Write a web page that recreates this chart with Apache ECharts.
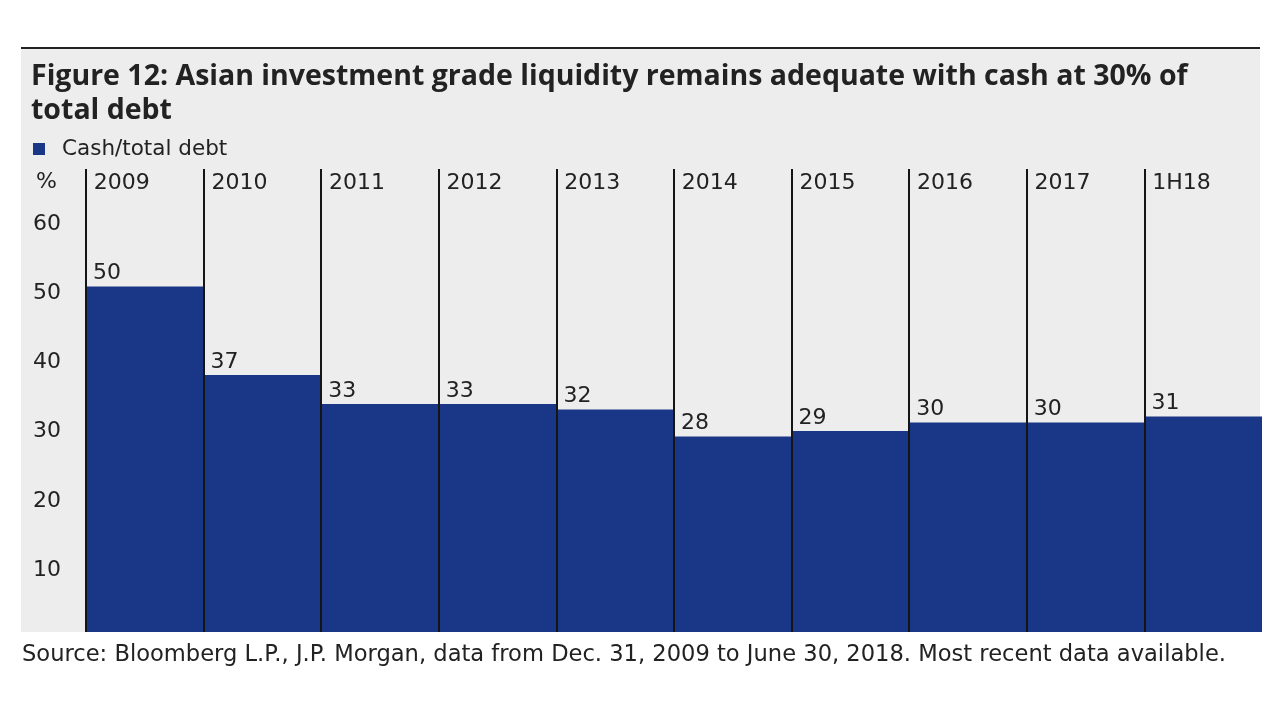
<!DOCTYPE html>
<html>
<head>
<meta charset="utf-8">
<style>html,body{margin:0;padding:0;background:#fff;}#c{width:1280px;height:720px;}</style>
<script src="https://cdn.jsdelivr.net/npm/echarts@6/dist/echarts.min.js"></script>
</head>
<body>
<div id="c"></div>
<script>
// Data
const categories = ['2009', '2010', '2011', '2012', '2013', '2014', '2015', '2016', '2017', '1H18'];
const cashToDebt = [50.0, 37.2, 33.0, 33.0, 32.2, 28.3, 29.1, 30.3, 30.3, 31.2];
const yMin = 0, yMax = 67, yInterval = 10;

const titleText = 'Figure 12: Asian investment grade liquidity remains adequate with cash at 30% of\ntotal debt';
const sourceText = 'Source: Bloomberg L.P., J.P. Morgan, data from Dec. 31, 2009 to June 30, 2018. Most recent data available.';
const seriesName = 'Cash/total debt';

const FONT = 'DejaVu Sans';
const TXT = '#222222';
const BLUE = '#1a3787';

const chart = echarts.init(document.getElementById('c'), null, {renderer: 'canvas'});
chart.setOption({
  backgroundColor: '#ffffff',
  animation: false,
  graphic: [
    {type: 'rect', z: -10, silent: true, shape: {x: 21, y: 48, width: 1239, height: 584}, style: {fill: '#ededed'}},
    {type: 'line', z: 10, silent: true, shape: {x1: 21, y1: 48, x2: 1260, y2: 48}, style: {stroke: '#222', lineWidth: 2}}
  ],
  title: [
    {text: titleText, left: 31, top: 60, padding: 0,
     textStyle: {fontFamily: 'Open Sans', fontWeight: 'bold', fontSize: 28.5, lineHeight: 34, color: TXT}},
    {text: sourceText, left: 22, top: 642, padding: 0,
     textStyle: {fontFamily: FONT, fontWeight: 'normal', fontSize: 22.6, lineHeight: 26, color: TXT}}
  ],
  legend: {
    left: 33, top: 138, padding: 0,
    icon: 'rect', itemWidth: 12, itemHeight: 12,
    textStyle: {fontFamily: FONT, fontSize: 21.5, color: TXT, padding: [0, 0, 0, 12]},
    data: [seriesName]
  },
  grid: {left: 86, right: 18, top: 169, bottom: 88},
  xAxis: {
    type: 'category', data: categories, position: 'top', z: 5,
    axisLine: {show: false}, axisTick: {show: false, interval: 0},
    axisLabel: {inside: true, interval: 0, margin: 14, verticalAlign: 'middle', color: TXT,
      fontFamily: FONT, fontSize: 22,
      formatter: v => '{a|' + v + '}',
      rich: {a: {width: 102, align: 'left', fontFamily: FONT, fontSize: 22, color: TXT}}},
    splitLine: {show: true, interval: 0, showMaxLine: false, lineStyle: {color: '#151515', width: 2}}
  },
  yAxis: {
    type: 'value', min: yMin, max: yMax, interval: yInterval,
    name: '%', nameLocation: 'end', nameGap: -13,
    nameTextStyle: {fontFamily: FONT, fontSize: 22, color: TXT, align: 'right', verticalAlign: 'middle', padding: [0, 29, 0, 0]},
    axisLine: {show: false}, axisTick: {show: false}, splitLine: {show: false},
    axisLabel: {showMinLabel: false, showMaxLabel: false, margin: 25, color: TXT,
      fontFamily: FONT, fontSize: 22, verticalAlign: 'top', lineHeight: 14}
  },
  series: [{
    name: seriesName, type: 'bar', data: cashToDebt,
    barCategoryGap: '0%', barGap: '0%',
    itemStyle: {color: BLUE},
    label: {show: true, position: [7, -13], align: 'left', verticalAlign: 'middle',
      fontFamily: FONT, fontSize: 22, color: TXT,
      formatter: p => String(Math.round(p.value))}
  }]
});
</script>
</body>
</html>
